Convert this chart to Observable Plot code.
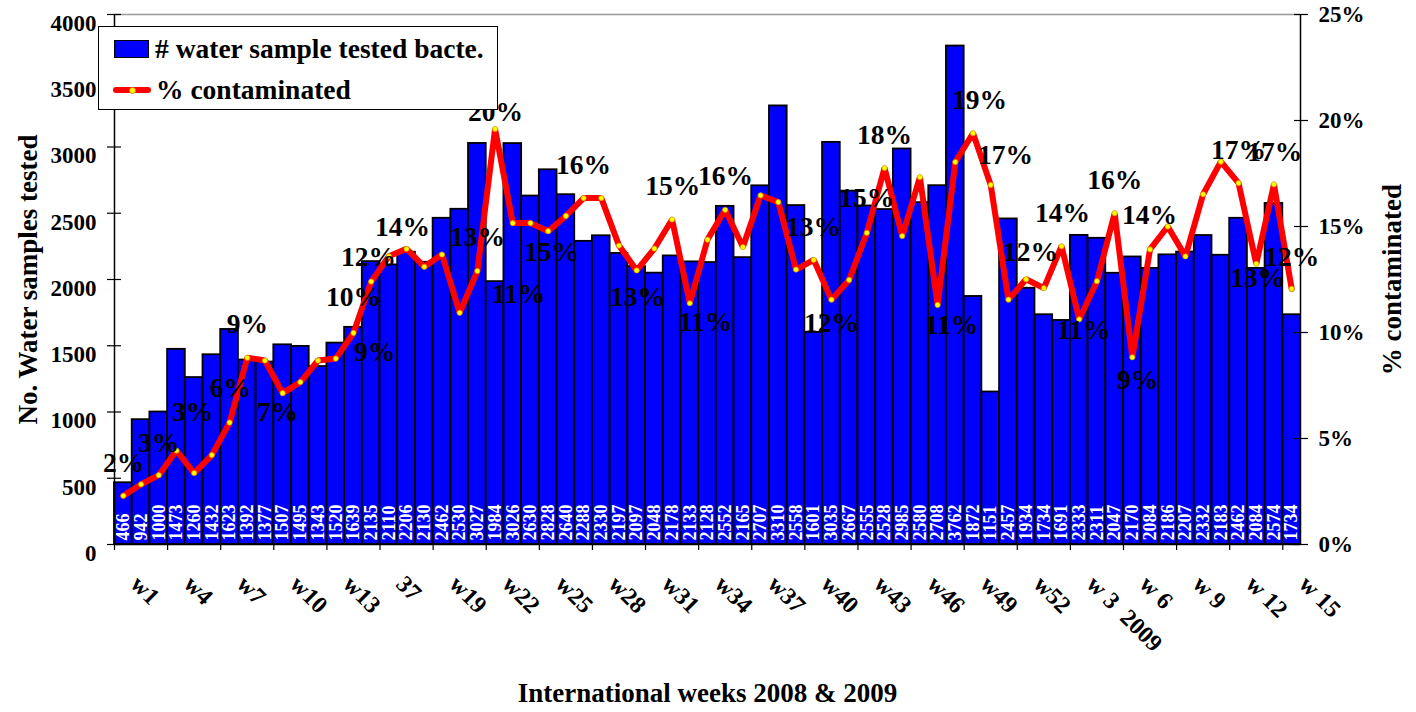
<!DOCTYPE html>
<html>
<head>
<meta charset="utf-8">
<script src="https://cdn.jsdelivr.net/npm/d3@7"></script>
<script src="https://cdn.jsdelivr.net/npm/@observablehq/plot@0.6"></script>
<style>
  body { margin: 0; background: white; }
  #wrap { position: relative; width: 1416px; height: 712px; }
  #legend { position: absolute; left: 98px; top: 26px; width: 398px; height: 82px; border: 1px solid black; background: white;
    font-family: 'Liberation Serif', 'Times New Roman', serif; font-weight: bold; font-size: 27.5px; color: black; }
  #legend .t { position: absolute; line-height: 30px; white-space: nowrap; }
  #legend .sw { position: absolute; left: 15px; top: 13px; width: 33px; height: 16px; background: #0000ff; border: 1px solid black; }
  #legend .ln { position: absolute; left: 14px; top: 60px; width: 38px; height: 6px; background: #ff0000; border-radius: 3px; }
  #legend .dt { position: absolute; left: 30px; top: 60px; width: 5px; height: 5px; background: yellow; border: 0.5px solid #c89000; border-radius: 50%; }
</style>
</head>
<body>
<div id="wrap"></div>
<script>
// Samples tested per week (bar values)
const samples = [466, 942, 1000, 1473, 1260, 1432, 1623, 1392, 1377, 1507, 1495, 1343, 1520, 1639, 2135, 2110, 2206, 2130, 2462, 2530, 3027, 1984, 3026, 2630, 2828, 2640, 2288, 2330, 2197, 2097, 2048, 2178, 2133, 2128, 2552, 2165, 2707, 3310, 2558, 1601, 3035, 2667, 2555, 2528, 2985, 2580, 2708, 3762, 1872, 1151, 2457, 1934, 1734, 1691, 2333, 2311, 2047, 2170, 2084, 2186, 2207, 2332, 2183, 2462, 2084, 2574, 1734];
// % contaminated per week
const pctContaminated = [2.30, 2.84, 3.27, 4.43, 3.37, 4.22, 5.75, 8.81, 8.68, 7.14, 7.66, 8.68, 8.77, 9.98, 12.40, 13.60, 13.95, 13.10, 13.68, 10.93, 12.90, 19.60, 15.16, 15.16, 14.78, 15.50, 16.34, 16.34, 14.10, 12.93, 13.96, 15.33, 11.38, 14.38, 15.79, 14.03, 16.47, 16.15, 12.97, 13.43, 11.55, 12.48, 14.70, 17.76, 14.55, 17.33, 11.30, 18.04, 19.40, 16.96, 11.55, 12.51, 12.09, 14.07, 10.62, 12.42, 15.63, 8.83, 13.92, 15.00, 13.59, 16.52, 18.06, 17.05, 13.24, 16.99, 12.06];
// Category tick labels (every third week)
const weekTickLabels = ["w1", "w4", "w7", "w10", "w13", "37", "w19", "w22", "w25", "w28", "w31", "w34", "w37", "w40", "w43", "w46", "w49", "w52", "w 3  2009", "w 6", "w 9", "w 12", "w 15"];
// Left and right axis tick values
const countTicks = [0, 500, 1000, 1500, 2000, 2500, 3000, 3500, 4000];
const pctTicks = [0, 5, 10, 15, 20, 25];
// Percentage annotations as printed on the chart (text, week position, % level)
const pctLabelText = ["2%", "3%", "3%", "6%", "9%", "7%", "10%", "9%", "12%", "14%", "13%", "20%", "11%", "15%", "16%", "13%", "15%", "11%", "16%", "13%", "12%", "15%", "18%", "19%", "11%", "17%", "12%", "14%", "11%", "16%", "14%", "9%", "17%", "17%", "13%", "12%"];
const pctLabelWeek = [0.51, 2.49, 4.41, 6.55, 7.51, 9.21, 13.5, 14.69, 14.35, 16.27, 20.51, 21.53, 22.82, 24.69, 26.5, 29.55, 31.53, 33.39, 34.52, 39.49, 40.51, 42.49, 43.5, 48.87, 47.29, 50.34, 51.75, 53.56, 54.75, 56.5, 58.47, 57.8, 63.5, 65.54, 64.58, 66.5];
const pctLabelLevel = [3.85, 4.8, 6.26, 7.35, 10.37, 6.26, 11.65, 9.05, 13.54, 14.96, 14.48, 20.39, 11.79, 13.78, 17.89, 11.65, 16.9, 10.47, 17.37, 14.96, 10.42, 16.33, 19.31, 20.96, 10.33, 18.36, 13.78, 15.62, 10.09, 17.18, 15.52, 7.73, 18.6, 18.5, 12.55, 13.54];

const maxCount = 4000, maxPct = 25, k = maxCount / maxPct; // percent -> count scale factor
const n = samples.length;
const idx = d3.range(n);
const tickIdx = d3.range(0, n, 3);

const chart = Plot.plot({
  width: 1416,
  height: 712,
  marginLeft: 114,
  marginRight: 116,
  marginTop: 14,
  marginBottom: 168,
  style: { fontFamily: "'Liberation Serif', 'Times New Roman', serif", fontWeight: "bold", background: "white", overflow: "visible", color: "black" },
  x: { domain: [0, n], axis: null },
  y: { domain: [0, maxCount], axis: null },
  marks: [
    Plot.ruleY([maxCount], { stroke: "#999", strokeWidth: 1.5 }),
    Plot.rectY(idx, { x1: i => i, x2: i => i + 1, y1: 0, y2: i => samples[i], fill: "#0000ff", stroke: "black", strokeWidth: 1.8 }),
    Plot.text(idx, { x: i => i + 0.5, y: 0, text: i => String(samples[i]), rotate: -90, textAnchor: "start", dy: -4, fill: "white", fontSize: 18, fontWeight: "bold" }),
    Plot.line(idx, { x: i => i + 0.5, y: i => pctContaminated[i] * k, stroke: "#ff0000", strokeWidth: 6, strokeLinejoin: "miter" }),
    Plot.dot(idx, { x: i => i + 0.5, y: i => pctContaminated[i] * k, r: 2.6, fill: "yellow", stroke: "#c89000", strokeWidth: 0.7 }),
    Plot.text(pctLabelText, { x: (d, i) => pctLabelWeek[i], y: (d, i) => pctLabelLevel[i] * k, text: d => d, fontSize: 27.5, fill: "black", fontWeight: "bold" }),
    // axis lines
    Plot.ruleX([0], { stroke: "black", strokeWidth: 1.5 }),
    Plot.ruleX([n], { stroke: "black", strokeWidth: 1.5 }),
    Plot.ruleY([0], { stroke: "black", strokeWidth: 1.5 }),
    // left axis
    Plot.axisY({ anchor: "left", ticks: countTicks, tickSize: 14, dx: 7, fill: "none", stroke: "black", strokeWidth: 1.2 }),
    Plot.axisY({ anchor: "left", ticks: countTicks, tickSize: 0, tickPadding: 18, stroke: "none", fontSize: 23, fontWeight: "bold", dy: 9, tickFormat: d => String(d), fill: "black" }),
    // right axis (percent mapped onto the same scale)
    Plot.axisY({ anchor: "right", ticks: pctTicks.map(p => p * k), tickSize: 14, dx: -7, fill: "none", stroke: "black", strokeWidth: 1.2 }),
    Plot.axisY({ anchor: "right", ticks: pctTicks.map(p => p * k), tickSize: 0, tickPadding: 18, stroke: "none", fontSize: 23, fontWeight: "bold", tickFormat: d => (d / k) + "%", fill: "black" }),
    // bottom axis ticks
    Plot.axisX({ anchor: "bottom", ticks: tickIdx, tickSize: 6, fill: "none", stroke: "black", strokeWidth: 1.2 }),
    Plot.text(weekTickLabels, { x: (d, i) => tickIdx[i] + 0.5, frameAnchor: "bottom", rotate: 45, textAnchor: "start", dx: 6, dy: 41, fontSize: 24, fontWeight: "bold", fill: "black" }),
    // axis titles
    Plot.text(["No. Water samples tested"], { frameAnchor: "left", textAnchor: "middle", rotate: -90, dx: -86, fontSize: 27, fontWeight: "bold", fill: "black" }),
    Plot.text(["% contaminated"], { frameAnchor: "right", textAnchor: "middle", rotate: -90, dx: 92, fontSize: 27, fontWeight: "bold", fill: "black" }),
    Plot.text(["International weeks 2008 & 2009"], { frameAnchor: "bottom", dy: 157, fontSize: 27, fontWeight: "bold", fill: "black" })
  ]
});

const wrap = document.getElementById("wrap");
wrap.appendChild(chart);
const legend = document.createElement("div");
legend.id = "legend";
legend.innerHTML = '<div class="sw"></div><div class="t" style="left:56px;top:7px"># water sample tested bacte.</div>' +
  '<div class="ln"></div><div class="dt"></div><div class="t" style="left:57px;top:48px">% contaminated</div>';
wrap.appendChild(legend);
</script>
</body>
</html>
